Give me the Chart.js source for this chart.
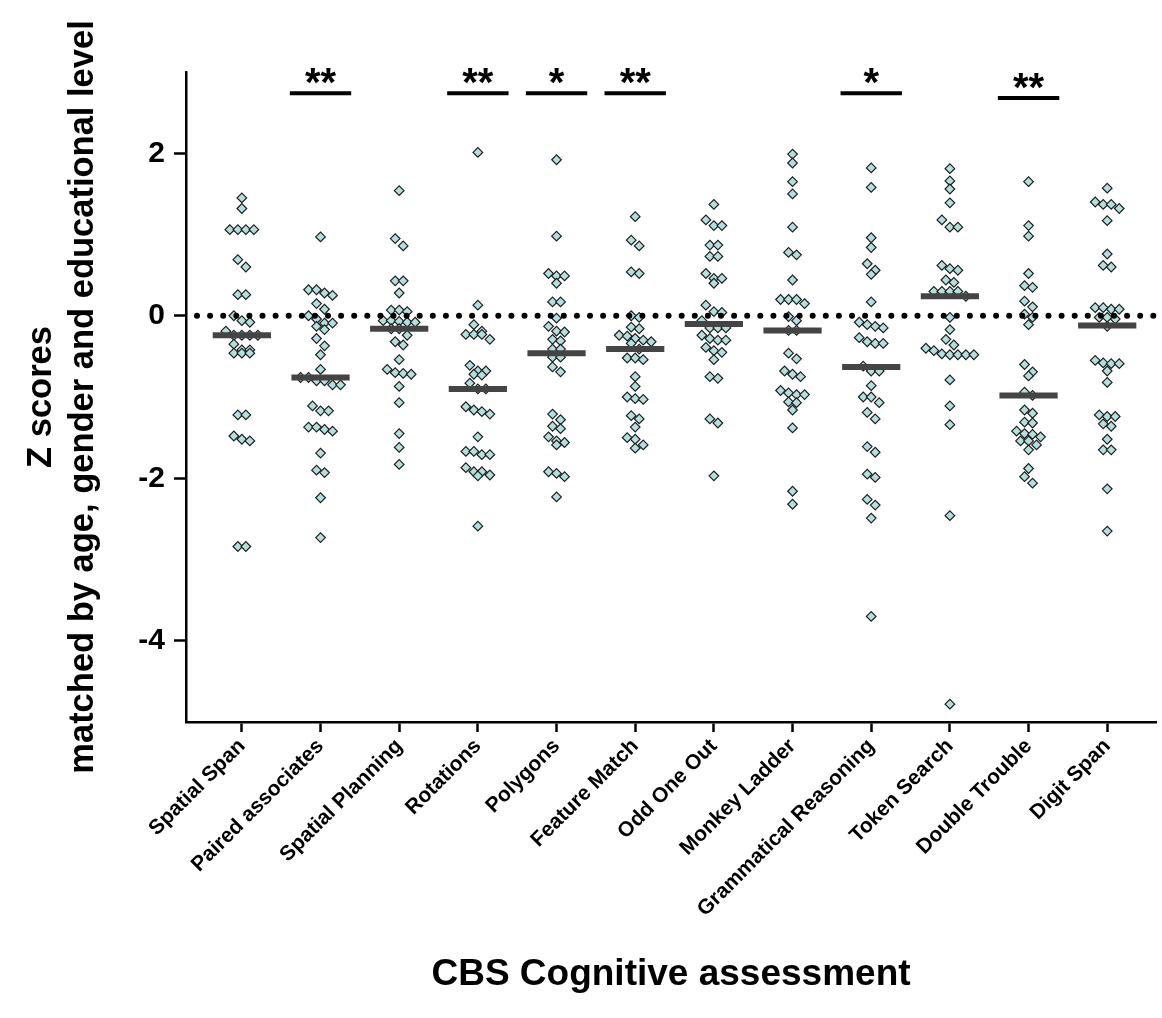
<!DOCTYPE html>
<html>
<head>
<meta charset="utf-8">
<script src="https://cdn.jsdelivr.net/npm/chart.js@4.4.1/dist/chart.umd.min.js"></script>
<style>
  html, body { margin: 0; padding: 0; background: #fff; }
  canvas { display: block; }
</style>
</head>
<body>
<canvas id="myChart" width="1162" height="1018"></canvas>
<script>
const ctx = document.getElementById('myChart');
const FONT = 'Arial, "Liberation Sans", Helvetica, sans-serif';

const categories = ['Spatial Span', 'Paired associates', 'Spatial Planning', 'Rotations', 'Polygons',
  'Feature Match', 'Odd One Out', 'Monkey Ladder', 'Grammatical Reasoning', 'Token Search',
  'Double Trouble', 'Digit Span'];

// z scores per test
const spatialSpan = [1.45, 1.32, 1.06, 1.06, 1.06, 1.06, 0.69, 0.60, 0.26, 0.26, 0.0, -0.06, -0.08, -0.19, -0.24, -0.24,
  -0.24, -0.24, -0.35, -0.42, -0.42, -0.46, -0.46, -0.46, -1.22, -1.22, -1.48, -1.52, -1.54, -2.84, -2.84];
const pairedAssociates = [0.97, 0.32, 0.32, 0.28, 0.25, 0.15, 0.08, 0.0, -0.04, -0.09, -0.09, -0.13, -0.17, -0.28, -0.37,
  -0.48, -0.66, -0.76, -0.76, -0.80, -0.80, -0.85, -0.85, -1.11, -1.17, -1.17, -1.37, -1.37, -1.40, -1.42, -1.69,
  -1.90, -1.93, -2.24, -2.73];
const spatialPlanning = [1.54, 0.95, 0.86, 0.43, 0.43, 0.28, 0.07, 0.07, 0.05, -0.06, -0.06, -0.07, -0.08, -0.08, -0.16,
  -0.16, -0.24, -0.32, -0.36, -0.54, -0.66, -0.70, -0.71, -0.72, -0.87, -1.07, -1.45, -1.62, -1.83];
const rotations = [2.01, 0.13, -0.11, -0.19, -0.23, -0.23, -0.23, -0.29, -0.61, -0.68, -0.68, -0.72, -0.73, -0.83, -0.90,
  -0.90, -1.12, -1.16, -1.18, -1.21, -1.49, -1.67, -1.67, -1.71, -1.71, -1.87, -1.92, -1.92, -1.96, -1.97, -2.59];
const polygons = [1.92, 0.98, 0.52, 0.49, 0.49, 0.40, 0.17, 0.17, -0.03, -0.13, -0.19, -0.20, -0.29, -0.31, -0.41, -0.41,
  -0.51, -0.51, -0.63, -0.69, -1.21, -1.28, -1.36, -1.39, -1.49, -1.54, -1.56, -1.59, -1.92, -1.94, -1.98, -2.23];
const featureMatch = [1.22, 0.93, 0.86, 0.54, 0.52, 0.0, -0.02, -0.14, -0.16, -0.24, -0.25, -0.28, -0.30, -0.32, -0.34,
  -0.41, -0.52, -0.52, -0.54, -0.75, -0.87, -1.00, -1.02, -1.03, -1.23, -1.27, -1.37, -1.50, -1.52, -1.59, -1.63];
const oddOneOut = [1.37, 1.18, 1.11, 1.11, 0.87, 0.87, 0.73, 0.73, 0.52, 0.46, 0.46, 0.40, 0.13, 0.05, 0.04, -0.06,
  -0.15, -0.15, -0.15, -0.24, -0.28, -0.30, -0.30, -0.39, -0.43, -0.45, -0.54, -0.75, -0.77, -1.27, -1.32, -1.97];
const monkeyLadder = [1.99, 1.88, 1.65, 1.50, 1.09, 0.78, 0.75, 0.44, 0.20, 0.20, 0.20, 0.15, -0.01, -0.06, -0.18, -0.18,
  -0.46, -0.53, -0.68, -0.72, -0.75, -0.92, -0.95, -0.97, -0.97, -1.06, -1.07, -1.16, -1.38, -2.16, -2.32];
const grammaticalReasoning = [1.82, 1.58, 0.96, 0.84, 0.64, 0.56, 0.51, 0.17, -0.08, -0.11, -0.13, -0.15, -0.27, -0.32,
  -0.34, -0.34, -0.62, -0.68, -0.68, -0.86, -1.00, -1.00, -1.07, -1.19, -1.27, -1.61, -1.68, -1.95, -1.99, -2.26,
  -2.33, -2.49, -3.70];
const tokenSearch = [1.81, 1.66, 1.56, 1.39, 1.18, 1.09, 1.09, 0.62, 0.58, 0.56, 0.44, 0.41, 0.30, 0.30, 0.30, 0.30, 0.24,
  -0.02, -0.17, -0.29, -0.36, -0.40, -0.43, -0.47, -0.48, -0.48, -0.48, -0.48, -0.79, -1.11, -1.34, -2.46, -4.78];
const doubleTrouble = [1.65, 1.11, 0.98, 0.52, 0.37, 0.35, 0.18, 0.11, 0.02, -0.02, -0.11, -0.60, -0.69, -0.74, -0.94,
  -0.98, -1.16, -1.20, -1.31, -1.32, -1.42, -1.45, -1.46, -1.49, -1.54, -1.54, -1.59, -1.65, -1.88, -1.98, -2.06];
const digitSpan = [1.57, 1.40, 1.37, 1.37, 1.32, 1.17, 0.76, 0.62, 0.60, 0.10, 0.10, 0.08, 0.08, -0.02, -0.02, -0.04,
  -0.13, -0.55, -0.58, -0.59, -0.59, -0.68, -0.82, -1.22, -1.24, -1.24, -1.33, -1.36, -1.52, -1.65, -1.65, -2.13, -2.65];

const series = [spatialSpan, pairedAssociates, spatialPlanning, rotations, polygons, featureMatch,
  oddOneOut, monkeyLadder, grammaticalReasoning, tokenSearch, doubleTrouble, digitSpan];

const medians = [-0.24, -0.76, -0.16, -0.90, -0.46, -0.41, -0.10, -0.18, -0.63, 0.24, -0.98, -0.12];

// significance marks (category index, stars, height of the bar)
const sigIndex = [1, 3, 4, 5, 8, 10];
const sigStars = ['**', '**', '*', '**', '*', '**'];
const sigLevel = [2.74, 2.74, 2.74, 2.74, 2.74, 2.68];

const yTicks = [-4, -2, 0, 2];

const overlay = {
  id: 'overlay',
  afterDatasetsDraw(chart) {
    const c = chart.ctx;
    const area = chart.chartArea;
    const x = chart.scales.x, y = chart.scales.y;
    c.save();

    // dotted line at zero
    const y0 = y.getPixelForValue(0);
    c.strokeStyle = '#000';
    c.lineWidth = 6;
    c.lineCap = 'round';
    c.setLineDash([0, 13.1]);
    c.beginPath();
    c.moveTo(area.left + 11, y0);
    c.lineTo(area.right, y0);
    c.stroke();
    c.setLineDash([]);

    // median bars
    c.lineCap = 'butt';
    c.strokeStyle = '#444';
    c.lineWidth = 6;
    medians.forEach((m, i) => {
      const py = y.getPixelForValue(m);
      c.beginPath();
      c.moveTo(x.getPixelForValue(i - 0.37), py);
      c.lineTo(x.getPixelForValue(i + 0.37), py);
      c.stroke();
    });

    // significance bars + stars
    c.strokeStyle = '#000';
    c.fillStyle = '#000';
    c.lineWidth = 4;
    c.font = 'bold 40px ' + FONT;
    c.textAlign = 'center';
    c.textBaseline = 'alphabetic';
    sigIndex.forEach((k, j) => {
      const py = y.getPixelForValue(sigLevel[j]);
      c.beginPath();
      c.moveTo(x.getPixelForValue(k - 0.39), py);
      c.lineTo(x.getPixelForValue(k + 0.39), py);
      c.stroke();
      c.fillText(sigStars[j], x.getPixelForValue(k), py + 3);
    });
    c.restore();
  }
};

const datasets = series.map((vals, i) => ({
  label: categories[i],
  data: vals.map(v => ({x: i, y: v})),
  pointStyle: 'rectRot',
  pointRadius: 4.8,
  pointBackgroundColor: '#b3dfdf',
  pointBorderColor: '#1e1e1e',
  pointBorderWidth: 1.2,
  showLine: false,
  clip: false
}));

let cc = new Chart(ctx, {
  type: 'scatter',
  data: {datasets: datasets},
  options: {
    responsive: false,
    animation: false,
    layout: {padding: {top: 72, right: 2, left: 0, bottom: 0}},
    plugins: {legend: {display: false}, tooltip: {enabled: false}},
    scales: {
      x: {
        type: 'linear',
        min: -0.71,
        max: 11.62,
        afterBuildTicks: ax => { ax.ticks = categories.map((c, i) => ({value: i})); },
        afterFit: ax => { ax.height = 296; },
        ticks: {
          autoSkip: false, minRotation: 45, maxRotation: 45, padding: 2, color: '#000',
          font: {family: FONT, size: 21, weight: 'bold'},
          callback: v => categories[v]
        },
        grid: {drawOnChartArea: false, drawTicks: true, tickLength: 10, tickWidth: 2.5, color: '#000'},
        border: {display: true, color: '#000', width: 2.5},
        title: {
          display: true, text: 'CBS Cognitive assessment', color: '#000',
          font: {family: FONT, size: 37, weight: 'bold'}, padding: {top: 0, bottom: 21}
        }
      },
      y: {
        min: -5,
        max: 3,
        afterBuildTicks: ax => { ax.ticks = yTicks.map(v => ({value: v})); },
        afterFit: ax => { ax.width = 186; },
        ticks: {padding: 9, color: '#000', font: {family: FONT, size: 30, weight: 'bold'}},
        grid: {drawOnChartArea: false, drawTicks: true, tickLength: 12, tickWidth: 2.5, color: '#000'},
        border: {display: true, color: '#000', width: 2.5},
        title: {
          display: true, text: ['Z scores', 'matched by age, gender and educational level'], color: '#000',
          font: {family: FONT, size: 34.5, weight: 'bold', lineHeight: 1.2}, padding: {top: 21, bottom: 0}
        }
      }
    }
  },
  plugins: [overlay]
});

// spread points sideways in rows (column scatter), using the chart's own scales
function swarm(chart) {
  const xs = chart.scales.x, ys = chart.scales.y;
  const unit = xs.getPixelForValue(1) - xs.getPixelForValue(0);
  const gap = 8;
  chart.data.datasets.forEach((ds, i) => {
    const pts = series[i].map(v => ({v: v, py: ys.getPixelForValue(v)})).sort((a, b) => a.py - b.py);
    const rows = [];
    pts.forEach(p => {
      const row = rows[rows.length - 1];
      if (row && p.py - row[0].py < gap) row.push(p);
      else rows.push([p]);
    });
    ds.data = [];
    rows.forEach(row => {
      row.forEach((p, k) => {
        ds.data.push({x: i + (k - (row.length - 1) / 2) * gap / unit, y: p.v});
      });
    });
  });
  chart.update('none');
}

swarm(cc);
</script>
</body>
</html>
